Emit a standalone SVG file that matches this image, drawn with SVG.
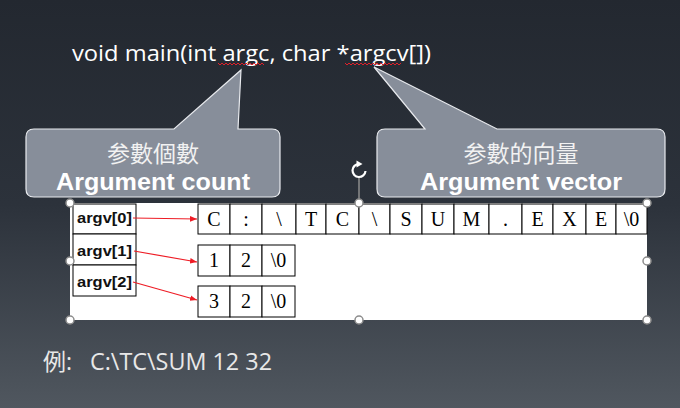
<svg xmlns="http://www.w3.org/2000/svg" width="680" height="408" viewBox="0 0 680 408">
<defs>
<linearGradient id="bg" x1="0" y1="0" x2="0" y2="1">
<stop offset="0" stop-color="#232830"/>
<stop offset="0.5" stop-color="#2c323b"/>
<stop offset="1" stop-color="#50575f"/>
</linearGradient>
<marker id="ah" viewBox="0 0 10 10" refX="10" refY="5" markerWidth="7" markerHeight="7" markerUnits="userSpaceOnUse" orient="auto">
<path d="M0,1 L10,5 L0,9 z" fill="#ee1c25"/>
</marker>
<style>
.title{font-family:"Segoe UI","Open Sans","Liberation Sans",sans-serif;font-size:22px;fill:#ffffff}
.call{fill:#878e9a;stroke:#e8eaee;stroke-width:1.2}
.cjk{font-family:"Noto Sans CJK TC","Noto Sans CJK SC",sans-serif;font-size:23px;fill:#f2f2f2;text-anchor:middle}
.en{font-family:"Liberation Sans",Arial,sans-serif;font-weight:bold;font-size:24px;fill:#ffffff;text-anchor:middle}
.cell{fill:#ffffff;stroke:#000000;stroke-width:1}
.ch{font-family:"Liberation Serif","Times New Roman",serif;font-size:20px;fill:#000;text-anchor:middle}
.lbl{font-family:"Liberation Sans",Arial,sans-serif;font-size:14px;font-weight:bold;fill:#111}
.handle{fill:#ffffff;stroke:#8c8c8c;stroke-width:1.5}
.wavy{fill:none;stroke:#e0202a;stroke-width:1}
.arrow{stroke:#ee1c25;stroke-width:1.2;fill:none;marker-end:url(#ah)}
.ex{font-family:"Segoe UI","Open Sans","Liberation Sans","Noto Sans CJK TC",sans-serif;font-size:23px;fill:#e8e8e8}
</style>
</defs>
<rect x="0" y="0" width="680" height="408" fill="url(#bg)"/>

<g id="title">
<text class="title" x="72" y="61" textLength="359" lengthAdjust="spacingAndGlyphs">void main(int argc, char *argcv[])</text>
<polyline class="wavy" points="218,63 220,65 222,63 224,65 226,63 228,65 230,63 232,65 234,63 236,65 238,63 240,65 242,63 244,65 246,63 248,65 250,63 252,65 254,63 256,65 258,63 260,65 262,63 264,65"/>
<polyline class="wavy" points="345,63 347,65 349,63 351,65 353,63 355,65 357,63 359,65 361,63 363,65 365,63 367,65 369,63 371,65 373,63 375,65 377,63 379,65 381,63 383,65 385,63 387,65 389,63 391,65 393,63 395,65 397,63 399,65 401,63"/>
</g>

<g id="callout-count">
<path class="call" d="M34,129 L174,129 L241,70 L238,129 L272,129 Q280,129 280,137 L280,189 Q280,197 272,197 L34,197 Q26,197 26,189 L26,137 Q26,129 34,129 Z"/>
<text class="cjk" x="153" y="162">参數個數</text>
<text class="en" x="153" y="190" textLength="194" lengthAdjust="spacingAndGlyphs">Argument count</text>
</g>

<g id="callout-vector">
<path class="call" d="M385,129 L425,129 L374,67 L497,129 L657,129 Q665,129 665,137 L665,189 Q665,197 657,197 L385,197 Q377,197 377,189 L377,137 Q377,129 385,129 Z"/>
<text class="cjk" x="521" y="162">参數的向量</text>
<text class="en" x="521" y="190" textLength="202" lengthAdjust="spacingAndGlyphs">Argument vector</text>
</g>

<g id="picture">
<rect x="70" y="203" width="577" height="117" fill="#ffffff"/>
</g>

<g id="argv">
<rect class="cell" x="73" y="204" width="63" height="30"/>
<rect class="cell" x="73" y="234" width="63" height="31"/>
<rect class="cell" x="73" y="265" width="63" height="31"/>
<text class="lbl" x="77" y="223" textLength="55" lengthAdjust="spacingAndGlyphs">argv[0]</text>
<text class="lbl" x="77" y="256" textLength="55" lengthAdjust="spacingAndGlyphs">argv[1]</text>
<text class="lbl" x="77" y="287" textLength="55" lengthAdjust="spacingAndGlyphs">argv[2]</text>
</g>

<g id="string0">
<rect class="cell" x="198" y="204" width="32" height="30"/>
<rect class="cell" x="230" y="204" width="32" height="30"/>
<rect class="cell" x="262" y="204" width="34" height="30"/>
<rect class="cell" x="296" y="204" width="30" height="30"/>
<rect class="cell" x="326" y="204" width="33" height="30"/>
<rect class="cell" x="359" y="204" width="31" height="30"/>
<rect class="cell" x="390" y="204" width="32" height="30"/>
<rect class="cell" x="422" y="204" width="32" height="30"/>
<rect class="cell" x="454" y="204" width="35" height="30"/>
<rect class="cell" x="489" y="204" width="33" height="30"/>
<rect class="cell" x="522" y="204" width="31" height="30"/>
<rect class="cell" x="553" y="204" width="33" height="30"/>
<rect class="cell" x="586" y="204" width="30" height="30"/>
<rect class="cell" x="616" y="204" width="31" height="30"/>
<text class="ch" x="214" y="226">C</text>
<text class="ch" x="246" y="226">:</text>
<text class="ch" x="279" y="226">\</text>
<text class="ch" x="311" y="226">T</text>
<text class="ch" x="342.5" y="226">C</text>
<text class="ch" x="374.5" y="226">\</text>
<text class="ch" x="406" y="226">S</text>
<text class="ch" x="438" y="226">U</text>
<text class="ch" x="471.5" y="226">M</text>
<text class="ch" x="505.5" y="226">.</text>
<text class="ch" x="537.5" y="226">E</text>
<text class="ch" x="569.5" y="226">X</text>
<text class="ch" x="601" y="226">E</text>
<text class="ch" x="631.5" y="226">\0</text>
</g>

<g id="string1">
<rect class="cell" x="198" y="245" width="32" height="31"/>
<rect class="cell" x="230" y="245" width="32" height="31"/>
<rect class="cell" x="262" y="245" width="33" height="31"/>
<text class="ch" x="214" y="267">1</text>
<text class="ch" x="246" y="267">2</text>
<text class="ch" x="278.5" y="267">\0</text>
</g>

<g id="string2">
<rect class="cell" x="198" y="286" width="32" height="31"/>
<rect class="cell" x="230" y="286" width="32" height="31"/>
<rect class="cell" x="262" y="286" width="33" height="31"/>
<text class="ch" x="214" y="308">3</text>
<text class="ch" x="246" y="308">2</text>
<text class="ch" x="278.5" y="308">\0</text>
</g>

<g id="connectors">
<line class="arrow" x1="133" y1="218" x2="197" y2="219"/>
<line class="arrow" x1="134" y1="251" x2="197" y2="262"/>
<line class="arrow" x1="133" y1="282" x2="197" y2="300"/>
</g>

<g id="selection">
<line x1="359" y1="178" x2="359" y2="203" stroke="#8c8c8c" stroke-width="1.5"/>
<path d="M365.5,171 A6.5,6.5 0 1 1 359,164" fill="none" stroke="#ffffff" stroke-width="2.2"/>
<path d="M356.5,160.5 L362.5,164 L356.5,167.5 Z" fill="#ffffff"/>
<circle class="handle" cx="70" cy="203" r="4"/>
<circle class="handle" cx="359" cy="203" r="4"/>
<circle class="handle" cx="647" cy="203" r="4"/>
<circle class="handle" cx="70" cy="261" r="4"/>
<circle class="handle" cx="647" cy="261" r="4"/>
<circle class="handle" cx="70" cy="320" r="4"/>
<circle class="handle" cx="359" cy="320" r="4"/>
<circle class="handle" cx="647" cy="320" r="4"/>
</g>

<g id="example">
<text class="ex" x="43" y="370">例:<tspan x="90" textLength="182" lengthAdjust="spacingAndGlyphs">C:\TC\SUM 12 32</tspan></text>
</g>
</svg>
